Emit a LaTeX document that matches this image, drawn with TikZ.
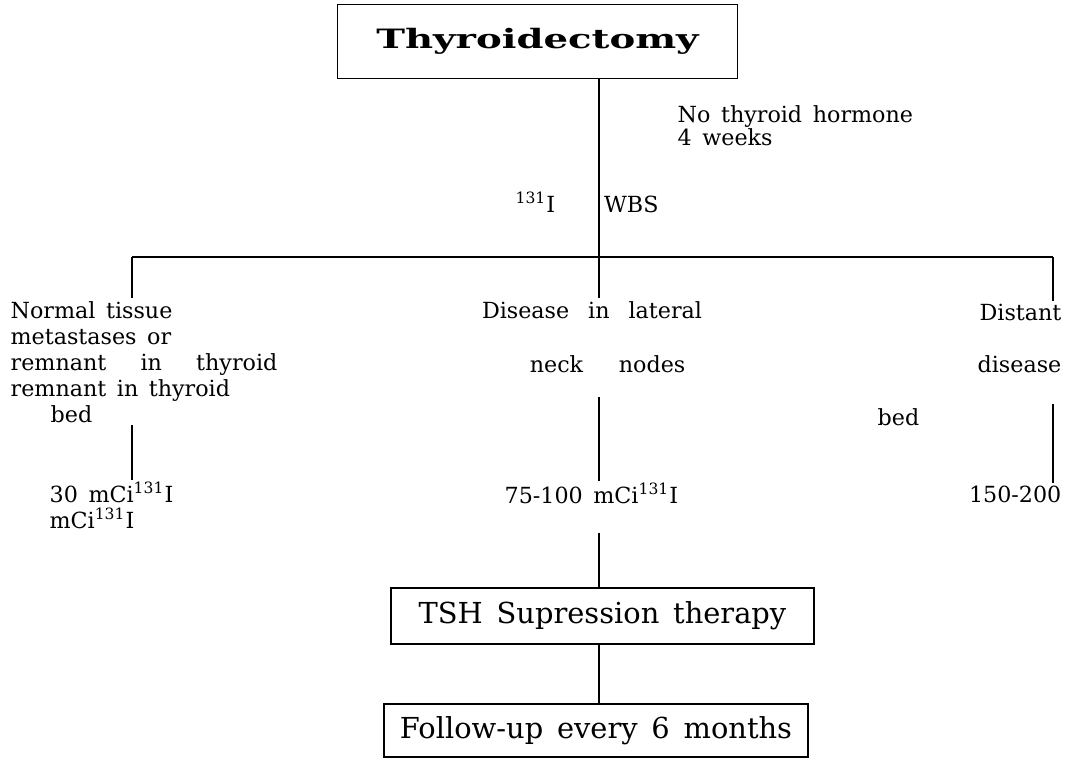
\documentclass[tikz,border=0pt]{standalone}
\usepackage{fontspec}
\setmainfont{DejaVu Serif}[WordSpace=1.5]
\usetikzlibrary{positioning}

\tikzset{
  stage/.style={draw, line width=0.6pt, inner sep=0pt, font=\fontsize{13}{15}\selectfont},
  txt/.style={inner sep=1pt},
  link/.style={line width=0.7pt},
}

\begin{document}
\begin{tikzpicture}[x=0.45pt, y=-0.45pt, font=\fontsize{10}{11.7}\selectfont]
  \useasboundingbox (0,0) rectangle (1074,760);

  % Bus points
  \coordinate (split) at (599,257);
  \coordinate (lbus) at (132,257);
  \coordinate (rbus) at (1053,257);

  % Boxes
  \node[stage, minimum width=180pt, minimum height=33pt] (thyro) at (537.5,41.5)
    {\scalebox{1.45}[1]{\fontsize{12}{14}\selectfont\bfseries Thyroidectomy}};
  \node[stage, minimum width=190.4pt, minimum height=25.2pt] (tsh) at (602.5,616)
    {TSH Supression therapy};
  \node[stage, minimum width=190.8pt, minimum height=23.9pt] (follow) at (596,730.5)
    {Follow-up every 6 months};

  % Texts (base = last line)
  \node[txt, anchor=base west, align=left, font=\fontsize{10}{10}\selectfont] (nohorm) at (675,145)
    {No thyroid hormone\\4 weeks};
  \node[txt, anchor=base west] (wbs) at (513,212) {\textsuperscript{131}I\hspace{22pt}WBS};

  \node[txt, anchor=base west, align=left] (normal) at (8,422)
    {Normal tissue\\metastases or\\\makebox[120pt][s]{remnant in thyroid}\\remnant in thyroid\\\hspace*{18pt}bed};
  \node[txt, anchor=base, align=center] (lateral) at (592,372)
    {\makebox[99pt][s]{Disease in lateral}\\[12.6pt]\hspace*{14pt}\makebox[70pt][s]{neck nodes}};
  \node[txt, anchor=base east, align=right] (distant) at (1064,372)
    {Distant\\[11.7pt]disease};
  \node[txt, anchor=base west] (strayd) at (875,425) {bed};

  \node[txt, anchor=base west, align=left] (lowdose) at (47,528)
    {30 mCi\textsuperscript{131}I\\mCi\textsuperscript{131}I};
  \node[txt, anchor=base west] (middose) at (502,503) {75-100 mCi\textsuperscript{131}I};
  \node[txt, anchor=base east] (highdose) at (1064,502) {150-200};

  % Lines
  \draw[link] (thyro.south -| split) -- (split);
  \draw[link] (lbus) -- (rbus);
  \draw[link] (lbus) -- (normal.north -| lbus);
  \draw[link] (split) -- (lateral.north -| split);
  \draw[link] (rbus) -- (distant.north -| rbus);

  \draw[link] (normal.south -| lbus) -- (lowdose.north -| lbus);
  \draw[link, shorten <=10pt] (lateral.south -| split) -- (middose.north -| split);
  \draw[link, shorten <=13pt] (distant.south -| rbus) -- (highdose.north -| rbus);

  \draw[link, shorten <=12pt] (middose.south -| split) -- (tsh.north -| split);
  \draw[link] (tsh.south -| split) -- (follow.north -| split);
\end{tikzpicture}
\end{document}
